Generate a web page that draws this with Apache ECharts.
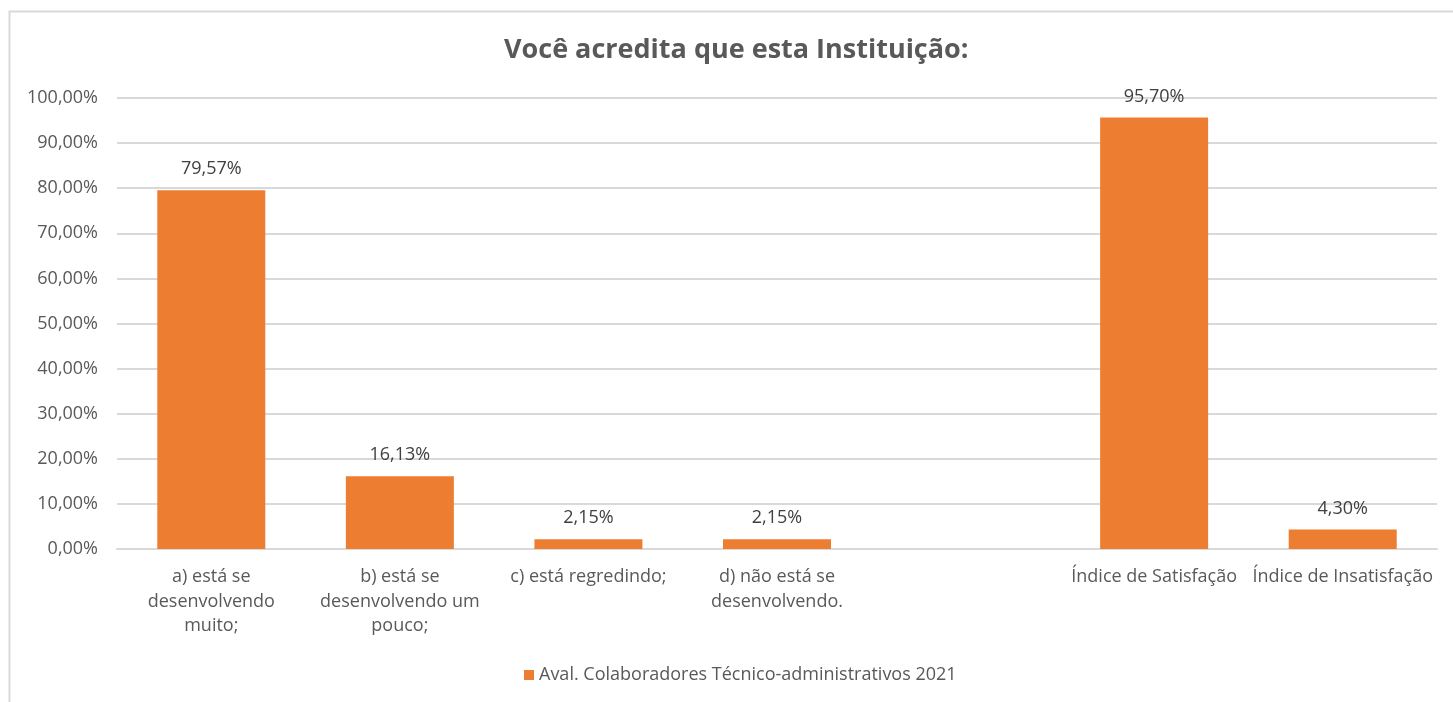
<!DOCTYPE html>
<html>
<head>
<meta charset="utf-8">
<script src="https://cdn.jsdelivr.net/npm/echarts@6/dist/echarts.min.js"></script>
<style>
  html, body { margin: 0; padding: 0; background: #fff; }
  #chart { width: 1453px; height: 702px; }
</style>
</head>
<body>
<div id="chart"></div>
<script>
// Categories (line breaks as shown under the axis); the blank one is a spacer slot
const categories = [
  'a) está se\ndesenvolvendo\nmuito;',
  'b) está se\ndesenvolvendo um\npouco;',
  'c) está regredindo;',
  'd) não está se\ndesenvolvendo.',
  '',
  'Índice de Satisfação',
  'Índice de Insatisfação'
];
const seriesName = 'Aval. Colaboradores Técnico-administrativos 2021';
const values = [79.57, 16.13, 2.15, 2.15, null, 95.70, 4.30];
const yTicks = { min: 0, max: 100, interval: 10 };

const FONT = '"Open Sans", Lato, sans-serif';
const TEXT = '#595959';
const pct = (v, d) => v.toFixed(d).replace('.', ',') + '%';

const chart = echarts.init(document.getElementById('chart'));
chart.setOption({
  animation: false,
  backgroundColor: '#ffffff',
  textStyle: { fontFamily: FONT },
  graphic: [{
    type: 'rect',
    shape: { x: 9.5, y: 11.5, width: 1500, height: 800 },
    style: { fill: 'none', stroke: '#d9d9d9', lineWidth: 2 },
    silent: true
  }],
  title: {
    text: 'Você acredita que esta Instituição:',
    left: 499,
    top: 32,
    textStyle: { fontFamily: FONT, fontSize: 27, fontWeight: 'bold', color: TEXT }
  },
  legend: {
    data: [seriesName],
    bottom: 13,
    left: 519,
    icon: 'rect',
    itemWidth: 10,
    itemHeight: 10,
    itemGap: 6,
    textStyle: { fontFamily: FONT, fontSize: 18, color: TEXT }
  },
  grid: { left: 117, right: 16, top: 98, bottom: 153, containLabel: false },
  xAxis: {
    type: 'category',
    data: categories,
    axisLine: { lineStyle: { color: '#d9d9d9', width: 2 } },
    axisTick: { show: false },
    axisLabel: {
      interval: 0,
      margin: 16,
      fontFamily: FONT,
      fontSize: 18,
      lineHeight: 24.5,
      color: TEXT
    }
  },
  yAxis: {
    type: 'value',
    min: yTicks.min,
    max: yTicks.max,
    interval: yTicks.interval,
    axisLine: { show: false },
    axisTick: { show: false },
    splitLine: { lineStyle: { color: '#d9d9d9', width: 2 } },
    axisLabel: {
      margin: 19,
      fontFamily: FONT,
      fontSize: 18,
      color: TEXT,
      formatter: v => pct(v, 2)
    }
  },
  series: [{
    name: seriesName,
    type: 'bar',
    data: values,
    barWidth: 108,
    itemStyle: { color: '#ed7d31' },
    label: {
      show: true,
      position: 'top',
      distance: 12,
      fontFamily: FONT,
      fontSize: 18,
      color: '#404040',
      formatter: p => p.value == null ? '' : pct(p.value, 2)
    }
  }]
});
</script>
</body>
</html>
